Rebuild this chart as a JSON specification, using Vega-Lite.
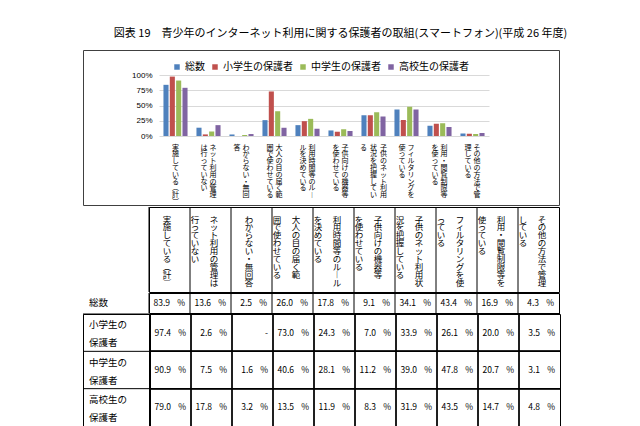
{
  "$schema": "https://vega.github.io/schema/vega-lite/v6.json",
  "padding": {"left": 82, "top": 27, "right": 5, "bottom": 0},
  "title": {"text": "図表 19　青少年のインターネット利用に関する保護者の取組(スマートフォン)(平成 26 年度)", "fontSize": 11, "fontWeight": "normal", "color": "#000", "font": "Noto Sans CJK JP", "anchor": "middle", "dx": 19, "offset": 11},
  "config": {
    "font": "Noto Sans CJK JP",
    "view": {"stroke": "#000", "strokeWidth": 1},
    "text": {"color": "#000", "fill": "#000", "font": "Noto Sans CJK JP"},
    "rule": {"color": "#000", "strokeWidth": 1}
  },
  "datasets": {
    "survey": [
      {"category": "実施している(計)", "group": "総数", "value": 83.9},
      {"category": "実施している(計)", "group": "小学生の保護者", "value": 97.4},
      {"category": "実施している(計)", "group": "中学生の保護者", "value": 90.9},
      {"category": "実施している(計)", "group": "高校生の保護者", "value": 79.0},
      {"category": "ネット利用の管理は行っていない", "group": "総数", "value": 13.6},
      {"category": "ネット利用の管理は行っていない", "group": "小学生の保護者", "value": 2.6},
      {"category": "ネット利用の管理は行っていない", "group": "中学生の保護者", "value": 7.5},
      {"category": "ネット利用の管理は行っていない", "group": "高校生の保護者", "value": 17.8},
      {"category": "わからない・無回答", "group": "総数", "value": 2.5},
      {"category": "わからない・無回答", "group": "小学生の保護者", "value": null},
      {"category": "わからない・無回答", "group": "中学生の保護者", "value": 1.6},
      {"category": "わからない・無回答", "group": "高校生の保護者", "value": 3.2},
      {"category": "大人の目の届く範囲で使わせている", "group": "総数", "value": 26.0},
      {"category": "大人の目の届く範囲で使わせている", "group": "小学生の保護者", "value": 73.0},
      {"category": "大人の目の届く範囲で使わせている", "group": "中学生の保護者", "value": 40.6},
      {"category": "大人の目の届く範囲で使わせている", "group": "高校生の保護者", "value": 13.5},
      {"category": "利用時間等のルールを決めている", "group": "総数", "value": 17.8},
      {"category": "利用時間等のルールを決めている", "group": "小学生の保護者", "value": 24.3},
      {"category": "利用時間等のルールを決めている", "group": "中学生の保護者", "value": 28.1},
      {"category": "利用時間等のルールを決めている", "group": "高校生の保護者", "value": 11.9},
      {"category": "子供向けの機器等を使わせている", "group": "総数", "value": 9.1},
      {"category": "子供向けの機器等を使わせている", "group": "小学生の保護者", "value": 7.0},
      {"category": "子供向けの機器等を使わせている", "group": "中学生の保護者", "value": 11.2},
      {"category": "子供向けの機器等を使わせている", "group": "高校生の保護者", "value": 8.3},
      {"category": "子供のネット利用状況を把握している", "group": "総数", "value": 34.1},
      {"category": "子供のネット利用状況を把握している", "group": "小学生の保護者", "value": 33.9},
      {"category": "子供のネット利用状況を把握している", "group": "中学生の保護者", "value": 39.0},
      {"category": "子供のネット利用状況を把握している", "group": "高校生の保護者", "value": 31.9},
      {"category": "フィルタリングを使っている", "group": "総数", "value": 43.4},
      {"category": "フィルタリングを使っている", "group": "小学生の保護者", "value": 26.1},
      {"category": "フィルタリングを使っている", "group": "中学生の保護者", "value": 47.8},
      {"category": "フィルタリングを使っている", "group": "高校生の保護者", "value": 43.5},
      {"category": "利用・閲覧制限等を使っている", "group": "総数", "value": 16.9},
      {"category": "利用・閲覧制限等を使っている", "group": "小学生の保護者", "value": 20.0},
      {"category": "利用・閲覧制限等を使っている", "group": "中学生の保護者", "value": 20.7},
      {"category": "利用・閲覧制限等を使っている", "group": "高校生の保護者", "value": 14.7},
      {"category": "その他の方法で管理している", "group": "総数", "value": 4.3},
      {"category": "その他の方法で管理している", "group": "小学生の保護者", "value": 3.5},
      {"category": "その他の方法で管理している", "group": "中学生の保護者", "value": 3.1},
      {"category": "その他の方法で管理している", "group": "高校生の保護者", "value": 4.8}
    ],
    "clabels": [
      {"category": "実施している(計)", "line": 1, "text": "実\n施\nし\nて\nい\nる\n︵\n計\n︶"},
      {"category": "ネット利用の管理は行っていない", "line": 1, "text": "ネ\nッ\nト\n利\n用\nの\n管\n理"},
      {"category": "ネット利用の管理は行っていない", "line": 2, "text": "は\n行\nっ\nて\nい\nな\nい"},
      {"category": "わからない・無回答", "line": 1, "text": "わ\nか\nら\nな\nい\n・\n無\n回"},
      {"category": "わからない・無回答", "line": 2, "text": "答"},
      {"category": "大人の目の届く範囲で使わせている", "line": 1, "text": "大\n人\nの\n目\nの\n届\nく\n範"},
      {"category": "大人の目の届く範囲で使わせている", "line": 2, "text": "囲\nで\n使\nわ\nせ\nて\nい\nる"},
      {"category": "利用時間等のルールを決めている", "line": 1, "text": "利\n用\n時\n間\n等\nの\nル\n︱"},
      {"category": "利用時間等のルールを決めている", "line": 2, "text": "ル\nを\n決\nめ\nて\nい\nる"},
      {"category": "子供向けの機器等を使わせている", "line": 1, "text": "子\n供\n向\nけ\nの\n機\n器\n等"},
      {"category": "子供向けの機器等を使わせている", "line": 2, "text": "を\n使\nわ\nせ\nて\nい\nる"},
      {"category": "子供のネット利用状況を把握している", "line": 1, "text": "子\n供\nの\nネ\nッ\nト\n利\n用"},
      {"category": "子供のネット利用状況を把握している", "line": 2, "text": "状\n況\nを\n把\n握\nし\nて\nい"},
      {"category": "子供のネット利用状況を把握している", "line": 3, "text": "る"},
      {"category": "フィルタリングを使っている", "line": 1, "text": "フ\nィ\nル\nタ\nリ\nン\nグ\nを"},
      {"category": "フィルタリングを使っている", "line": 2, "text": "使\nっ\nて\nい\nる"},
      {"category": "利用・閲覧制限等を使っている", "line": 1, "text": "利\n用\n・\n閲\n覧\n制\n限\n等"},
      {"category": "利用・閲覧制限等を使っている", "line": 2, "text": "を\n使\nっ\nて\nい\nる"},
      {"category": "その他の方法で管理している", "line": 1, "text": "そ\nの\n他\nの\n方\n法\nで\n管"},
      {"category": "その他の方法で管理している", "line": 2, "text": "理\nし\nて\nい\nる"}
    ],
    "hlabels": [
      {"category": "実施している(計)", "line": 1, "text": "実\n施\nし\nて\nい\nる\n︵\n計\n︶"},
      {"category": "ネット利用の管理は行っていない", "line": 1, "text": "ネ\nッ\nト\n利\n用\nの\n管\n理\nは"},
      {"category": "ネット利用の管理は行っていない", "line": 2, "text": "行\nっ\nて\nい\nな\nい"},
      {"category": "わからない・無回答", "line": 1, "text": "わ\nか\nら\nな\nい\n・\n無\n回\n答"},
      {"category": "大人の目の届く範囲で使わせている", "line": 1, "text": "大\n人\nの\n目\nの\n届\nく\n範"},
      {"category": "大人の目の届く範囲で使わせている", "line": 2, "text": "囲\nで\n使\nわ\nせ\nて\nい\nる"},
      {"category": "利用時間等のルールを決めている", "line": 1, "text": "利\n用\n時\n間\n等\nの\nル\n︱\nル"},
      {"category": "利用時間等のルールを決めている", "line": 2, "text": "を\n決\nめ\nて\nい\nる"},
      {"category": "子供向けの機器等を使わせている", "line": 1, "text": "子\n供\n向\nけ\nの\n機\n器\n等"},
      {"category": "子供向けの機器等を使わせている", "line": 2, "text": "を\n使\nわ\nせ\nて\nい\nる"},
      {"category": "子供のネット利用状況を把握している", "line": 1, "text": "子\n供\nの\nネ\nッ\nト\n利\n用\n状"},
      {"category": "子供のネット利用状況を把握している", "line": 2, "text": "況\nを\n把\n握\nし\nて\nい\nる"},
      {"category": "フィルタリングを使っている", "line": 1, "text": "フ\nィ\nル\nタ\nリ\nン\nグ\nを\n使"},
      {"category": "フィルタリングを使っている", "line": 2, "text": "っ\nて\nい\nる"},
      {"category": "利用・閲覧制限等を使っている", "line": 1, "text": "利\n用\n・\n閲\n覧\n制\n限\n等\nを"},
      {"category": "利用・閲覧制限等を使っている", "line": 2, "text": "使\nっ\nて\nい\nる"},
      {"category": "その他の方法で管理している", "line": 1, "text": "そ\nの\n他\nの\n方\n法\nで\n管\n理"},
      {"category": "その他の方法で管理している", "line": 2, "text": "し\nて\nい\nる"}
    ],
    "rowlabels": [
      {"group": "総数", "label": "総数"},
      {"group": "小学生の保護者", "label": "小学生の\n保護者"},
      {"group": "中学生の保護者", "label": "中学生の\n保護者"},
      {"group": "高校生の保護者", "label": "高校生の\n保護者"}
    ]
  },
  "spacing": 0,
  "vconcat": [
    {
      "width": 476,
      "height": 155,
      "view": {"stroke": "#404040"},
      "layer": [
        {
          "data": {"name": "survey"},
          "mark": {"type": "bar"},
          "encoding": {
            "x": {"field": "category", "type": "nominal", "axis": null,
              "scale": {"domain": ["実施している(計)", "ネット利用の管理は行っていない", "わからない・無回答", "大人の目の届く範囲で使わせている", "利用時間等のルールを決めている", "子供向けの機器等を使わせている", "子供のネット利用状況を把握している", "フィルタリングを使っている", "利用・閲覧制限等を使っている", "その他の方法で管理している"],
                "range": [76, 406], "paddingInner": 0.27, "paddingOuter": 0.135}},
            "xOffset": {"field": "group", "type": "nominal", "scale": {"domain": ["総数", "小学生の保護者", "中学生の保護者", "高校生の保護者"], "paddingInner": 0.2}},
            "y": {"field": "value", "type": "quantitative",
              "scale": {"domain": [0, 100], "range": [86, 25], "nice": false},
              "axis": {"title": null, "values": [0, 25, 50, 75, 100], "labelExpr": "datum.value + '%'", "labelOverlap": false, "offset": -76, "ticks": false, "domain": false, "grid": true, "gridColor": "#d9d9d9", "labelFontSize": 8, "labelFont": "Liberation Sans", "labelColor": "#000", "labelPadding": 7}},
            "color": {"field": "group", "type": "nominal",
              "scale": {"domain": ["総数", "小学生の保護者", "中学生の保護者", "高校生の保護者"], "range": ["#4F81BD", "#C0504D", "#9BBB59", "#8064A2"]},
              "legend": {"title": null, "orient": "none", "legendX": 89, "legendY": 12, "direction": "horizontal", "symbolType": "square", "symbolSize": 30, "symbolStrokeWidth": 0, "labelFontSize": 10, "labelFont": "Noto Sans CJK JP", "labelColor": "#000", "columnPadding": 5, "labelOffset": 3, "padding": 0}}
          }
        },
        {
          "data": {"name": "clabels"},
          "transform": [{"filter": "datum.category === '実施している(計)' || (datum.category === '子供のネット利用状況を把握している' && datum.line === 2)"}],
          "mark": {"type": "text", "fontSize": 7, "lineHeight": 6.8, "lineBreak": "\n", "baseline": "top", "align": "center", "dy": 16},
          "encoding": {"x": {"field": "category", "type": "nominal", "axis": null}, "text": {"field": "text"}}
        },
        {
          "data": {"name": "clabels"},
          "transform": [{"filter": "datum.category !== '実施している(計)' && datum.category !== '子供のネット利用状況を把握している' && datum.line === 1"}],
          "mark": {"type": "text", "fontSize": 7, "lineHeight": 6.8, "lineBreak": "\n", "baseline": "top", "align": "center", "dy": 16, "dx": 4.5},
          "encoding": {"x": {"field": "category", "type": "nominal", "axis": null}, "text": {"field": "text"}}
        },
        {
          "data": {"name": "clabels"},
          "transform": [{"filter": "datum.category !== '実施している(計)' && datum.category !== '子供のネット利用状況を把握している' && datum.line === 2"}],
          "mark": {"type": "text", "fontSize": 7, "lineHeight": 6.8, "lineBreak": "\n", "baseline": "top", "align": "center", "dy": 16, "dx": -4.5},
          "encoding": {"x": {"field": "category", "type": "nominal", "axis": null}, "text": {"field": "text"}}
        },
        {
          "data": {"name": "clabels"},
          "transform": [{"filter": "datum.category === '子供のネット利用状況を把握している' && datum.line === 1"}],
          "mark": {"type": "text", "fontSize": 7, "lineHeight": 6.8, "lineBreak": "\n", "baseline": "top", "align": "center", "dy": 16, "dx": 10},
          "encoding": {"x": {"field": "category", "type": "nominal", "axis": null}, "text": {"field": "text"}}
        },
        {
          "data": {"name": "clabels"},
          "transform": [{"filter": "datum.category === '子供のネット利用状況を把握している' && datum.line === 3"}],
          "mark": {"type": "text", "fontSize": 7, "lineHeight": 6.8, "lineBreak": "\n", "baseline": "top", "align": "center", "dy": 16, "dx": -10},
          "encoding": {"x": {"field": "category", "type": "nominal", "axis": null}, "text": {"field": "text"}}
        }
      ]
    },
    {
      "spacing": -1,
      "vconcat": [
        {
          "spacing": -1,
          "hconcat": [
            {
              "width": 66, "height": 85,
              "data": {"values": [{"blank": ""}]},
              "mark": {"type": "text"},
              "encoding": {"text": {"field": "blank"}}
            },
            {
              "width": 410, "height": 85,
              "encoding": {"x": {"field": "category", "type": "nominal", "axis": null,
                "scale": {"domain": ["実施している(計)", "ネット利用の管理は行っていない", "わからない・無回答", "大人の目の届く範囲で使わせている", "利用時間等のルールを決めている", "子供向けの機器等を使わせている", "子供のネット利用状況を把握している", "フィルタリングを使っている", "利用・閲覧制限等を使っている", "その他の方法で管理している"], "padding": 0}}},
              "layer": [
                {
                  "data": {"name": "survey"},
                  "transform": [{"filter": {"field": "group", "equal": "総数"}}],
                  "mark": {"type": "rule"},
                  "encoding": {"x": {"field": "category", "type": "nominal", "bandPosition": 0, "axis": null}}
                },
                {
                  "data": {"name": "hlabels"},
                  "transform": [{"filter": "datum.category === '実施している(計)' || datum.category === 'わからない・無回答'"}],
                  "mark": {"type": "text", "fontSize": 8.5, "lineHeight": 7.9, "lineBreak": "\n", "baseline": "top", "align": "center", "dy": -34, "dx": -2.5},
                  "encoding": {"text": {"field": "text"}}
                },
                {
                  "data": {"name": "hlabels"},
                  "transform": [{"filter": "datum.category !== '実施している(計)' && datum.category !== 'わからない・無回答' && datum.line === 1"}],
                  "mark": {"type": "text", "fontSize": 8.5, "lineHeight": 7.9, "lineBreak": "\n", "baseline": "top", "align": "center", "dy": -34, "dx": 3.5},
                  "encoding": {"text": {"field": "text"}}
                },
                {
                  "data": {"name": "hlabels"},
                  "transform": [{"filter": {"field": "line", "equal": 2}}],
                  "mark": {"type": "text", "fontSize": 8.5, "lineHeight": 7.9, "lineBreak": "\n", "baseline": "top", "align": "center", "dy": -34, "dx": -15.5},
                  "encoding": {"text": {"field": "text"}}
                }
              ]
            }
          ]
        },
        {
          "spacing": -1,
          "hconcat": [
            {
              "width": 66, "height": 20,
              "data": {"name": "rowlabels"},
              "transform": [{"filter": {"field": "group", "equal": "総数"}}],
              "mark": {"type": "text", "fontSize": 9.5, "align": "left", "baseline": "middle", "dx": -27},
              "encoding": {"text": {"field": "label"}}
            },
            {
              "width": 410, "height": 20,
              "data": {"name": "survey"},
              "transform": [{"filter": {"field": "group", "equal": "総数"}}],
              "encoding": {"x": {"field": "category", "type": "nominal", "axis": null,
                "scale": {"domain": ["実施している(計)", "ネット利用の管理は行っていない", "わからない・無回答", "大人の目の届く範囲で使わせている", "利用時間等のルールを決めている", "子供向けの機器等を使わせている", "子供のネット利用状況を把握している", "フィルタリングを使っている", "利用・閲覧制限等を使っている", "その他の方法で管理している"], "padding": 0}}},
              "layer": [
                {"mark": {"type": "rule"}, "encoding": {"x": {"field": "category", "type": "nominal", "bandPosition": 0, "axis": null}}},
                {"mark": {"type": "text", "fontSize": 8.5, "align": "right", "baseline": "middle", "dx": -20, "fill": "#000"},
                  "encoding": {"x": {"field": "category", "type": "nominal", "bandPosition": 1, "axis": null}, "text": {"field": "value", "type": "quantitative", "format": ".1f"}}},
                {"mark": {"type": "text", "fontSize": 8.5, "align": "right", "baseline": "middle", "dx": -5, "fill": "#000"},
                  "encoding": {"x": {"field": "category", "type": "nominal", "bandPosition": 1, "axis": null}, "text": {"value": "%"}}}
              ]
            }
          ]
        },
        {
          "spacing": -1,
          "hconcat": [
            {
              "width": 66, "height": 112,
              "data": {"name": "rowlabels"},
              "transform": [{"filter": {"field": "group", "oneOf": ["小学生の保護者", "中学生の保護者", "高校生の保護者"]}}],
              "encoding": {"y": {"field": "group", "type": "nominal", "axis": null, "scale": {"domain": ["小学生の保護者", "中学生の保護者", "高校生の保護者"], "padding": 0}}},
              "layer": [
                {"mark": {"type": "rule"}, "encoding": {"y": {"field": "group", "type": "nominal", "bandPosition": 0, "axis": null}}},
                {"mark": {"type": "text", "fontSize": 9.5, "align": "left", "baseline": "middle", "lineBreak": "\n", "lineHeight": 18, "dx": -27, "dy": -7.5},
                  "encoding": {"text": {"field": "label"}}}
              ]
            },
            {
              "width": 410, "height": 112,
              "data": {"name": "survey"},
              "transform": [{"filter": {"field": "group", "oneOf": ["小学生の保護者", "中学生の保護者", "高校生の保護者"]}}],
              "encoding": {
                "x": {"field": "category", "type": "nominal", "axis": null,
                  "scale": {"domain": ["実施している(計)", "ネット利用の管理は行っていない", "わからない・無回答", "大人の目の届く範囲で使わせている", "利用時間等のルールを決めている", "子供向けの機器等を使わせている", "子供のネット利用状況を把握している", "フィルタリングを使っている", "利用・閲覧制限等を使っている", "その他の方法で管理している"], "padding": 0}},
                "y": {"field": "group", "type": "nominal", "axis": null, "scale": {"domain": ["小学生の保護者", "中学生の保護者", "高校生の保護者"], "padding": 0}}
              },
              "layer": [
                {"mark": {"type": "rule"}, "encoding": {"x": {"field": "category", "type": "nominal", "bandPosition": 0, "axis": null}, "y": null}},
                {"mark": {"type": "rule"}, "encoding": {"y": {"field": "group", "type": "nominal", "bandPosition": 0, "axis": null}, "x": null}},
                {"transform": [{"filter": "isValid(datum.value)"}],
                  "mark": {"type": "text", "fontSize": 8.5, "align": "right", "baseline": "middle", "dx": -20, "fill": "#000"},
                  "encoding": {"x": {"field": "category", "type": "nominal", "bandPosition": 1, "axis": null}, "text": {"field": "value", "type": "quantitative", "format": ".1f"}}},
                {"transform": [{"filter": "isValid(datum.value)"}],
                  "mark": {"type": "text", "fontSize": 8.5, "align": "right", "baseline": "middle", "dx": -5, "fill": "#000"},
                  "encoding": {"x": {"field": "category", "type": "nominal", "bandPosition": 1, "axis": null}, "text": {"value": "%"}}},
                {"transform": [{"filter": "!isValid(datum.value)"}],
                  "mark": {"type": "text", "fontSize": 8.5, "align": "right", "baseline": "middle", "dx": -5, "fill": "#000"},
                  "encoding": {"x": {"field": "category", "type": "nominal", "bandPosition": 1, "axis": null}, "text": {"value": "-"}}}
              ]
            }
          ]
        }
      ]
    }
  ]
}
